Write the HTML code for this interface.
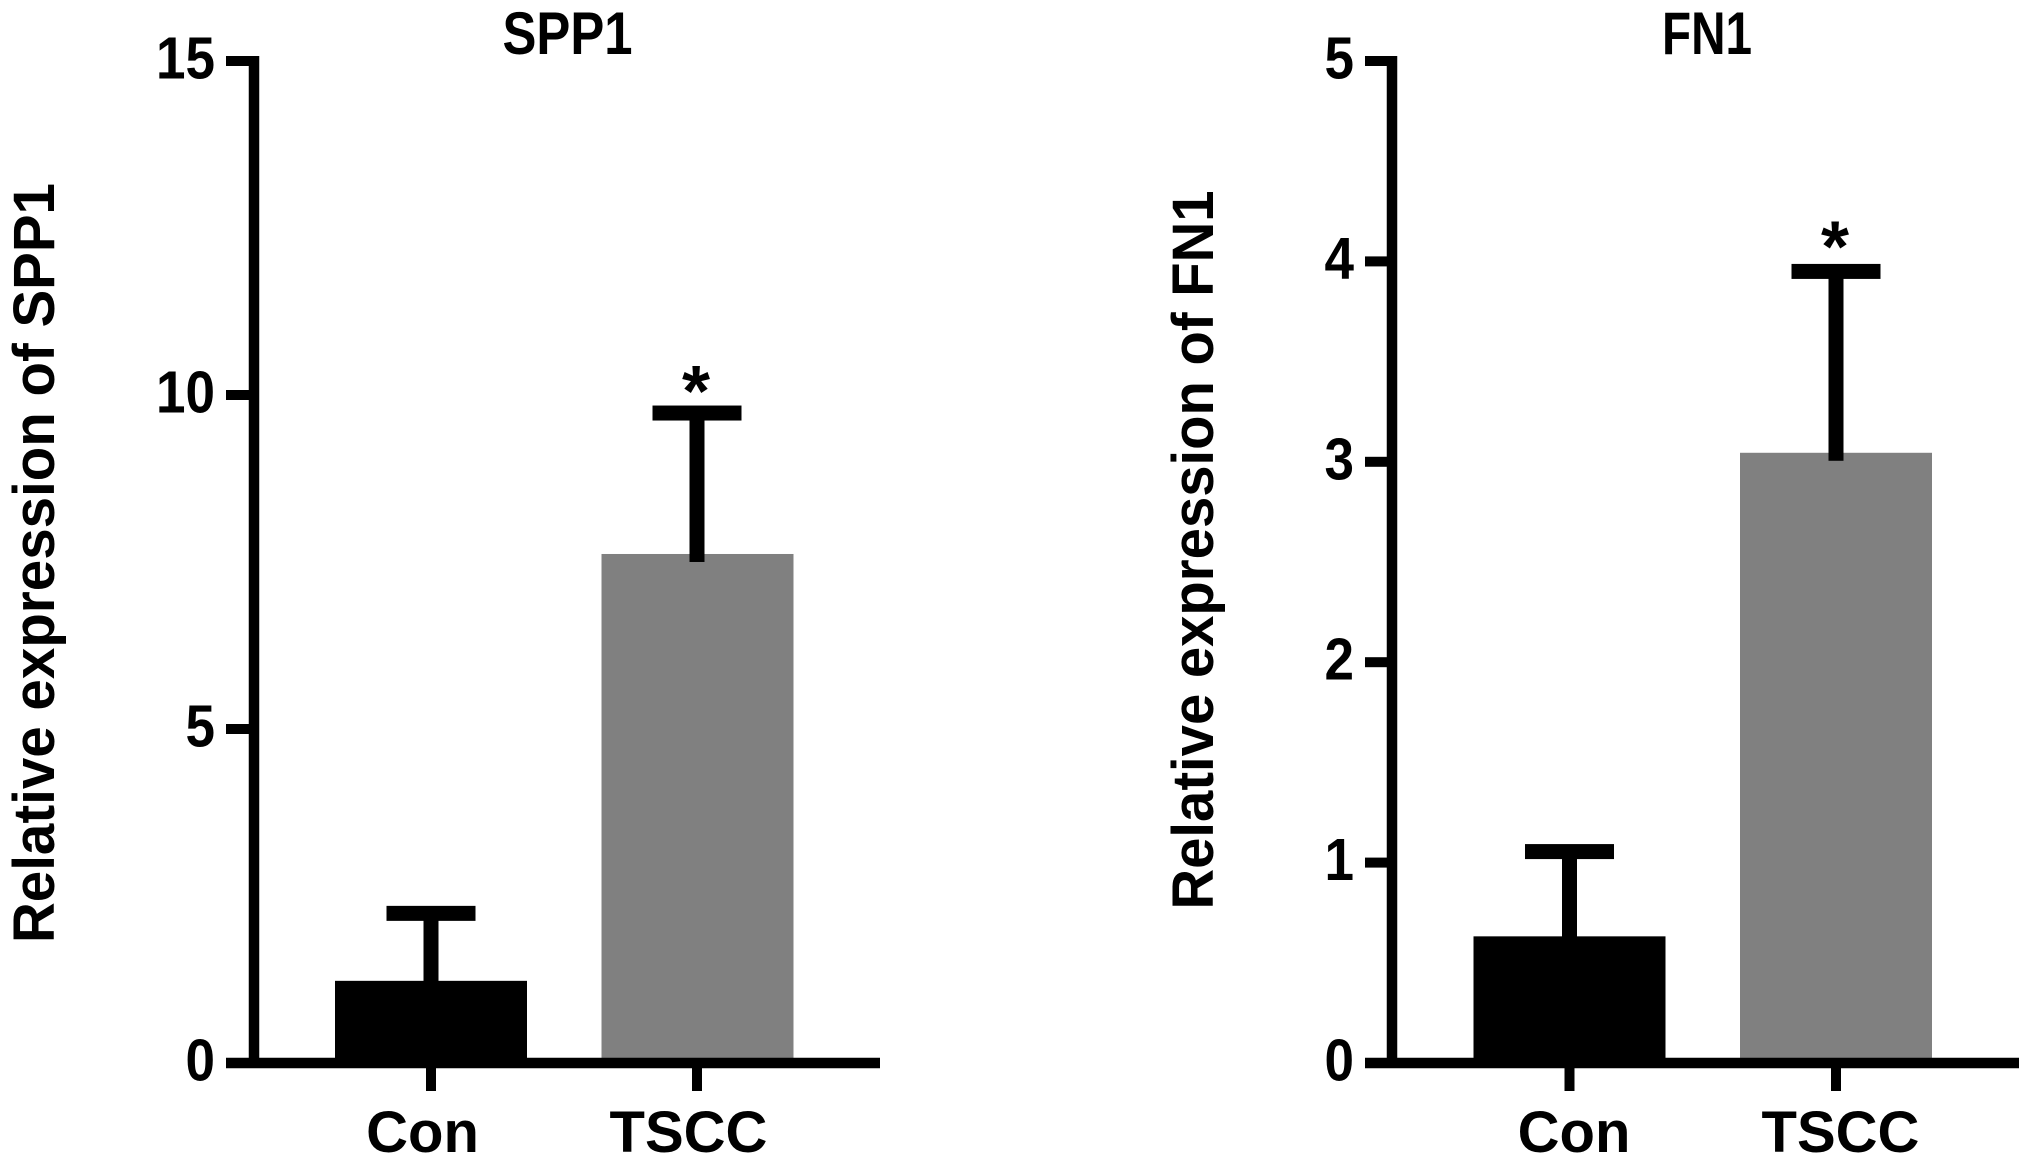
<!DOCTYPE html>
<html lang="en">
<head>
<meta charset="utf-8">
<title>SPP1 and FN1 relative expression</title>
<style>
html,body{margin:0;padding:0;background:#fff;width:2031px;height:1167px;overflow:hidden}
svg{display:block}
text{font-family:"Liberation Sans",Arial,sans-serif;font-weight:700;fill:#000}
</style>
</head>
<body>
<svg id="figure" xmlns="http://www.w3.org/2000/svg" width="2031" height="1167" viewBox="0 0 2031 1167">
<rect x="0" y="0" width="2031" height="1167" fill="#fff"/>
</svg>
<script>
// SPP1 data
const spp1Categories = ['Con', 'TSCC'];
const spp1Means = [1.23, 7.62];
const spp1ErrorTops = [2.24, 9.73];
const spp1Ticks = [0, 5, 10, 15];
const spp1Significance = ['', '*'];

// FN1 data
const fn1Categories = ['Con', 'TSCC'];
const fn1Means = [0.632, 3.045];
const fn1ErrorTops = [1.055, 3.95];
const fn1Ticks = [0, 1, 2, 3, 4, 5];
const fn1Significance = ['', '*'];

const barColors = ['#000000', '#808080'];
const svg = document.getElementById('figure');
const NS = 'http://www.w3.org/2000/svg';

function rect(parent, x, y, w, h, fill) {
  const el = document.createElementNS(NS, 'rect');
  el.setAttribute('x', x);
  el.setAttribute('y', y);
  el.setAttribute('width', w);
  el.setAttribute('height', h);
  el.setAttribute('fill', fill);
  parent.appendChild(el);
  return el;
}

function label(parent, str, x, y, size, anchor) {
  const el = document.createElementNS(NS, 'text');
  el.setAttribute('x', x);
  el.setAttribute('y', y);
  el.setAttribute('font-size', size);
  el.setAttribute('text-anchor', anchor);
  el.textContent = str;
  parent.appendChild(el);
  return el;
}

function squeeze(el, length) {
  el.setAttribute('textLength', length);
  el.setAttribute('lengthAdjust', 'spacingAndGlyphs');
}

function drawPanel(p) {
  const g = document.createElementNS(NS, 'g');
  
  
  svg.appendChild(g);

  const yMax = p.ticks[p.ticks.length - 1];
  const yScale = v => p.y0 - (v / yMax) * (p.y0 - p.yTop);

  // bars go first so the axis and error bars sit on top
  p.categories.forEach((cat, i) => {
    const top = yScale(p.means[i]);
    const bar = rect(g, p.barLefts[i], top, p.barWidth, p.y0 - top, barColors[i]);
    
    
  });

  // error bars
  p.categories.forEach((cat, i) => {
    const cx = p.centers[i];
    const capY = yScale(p.errorTops[i]);
    const meanY = yScale(p.means[i]);
    const stem = rect(g, cx - 7.5, capY, 15, meanY - capY + 8, '#000');
    
    
    const cap = rect(g, cx - 44.5, capY - 7.5, 89, 15, '#000');
    
    
    if (p.significance[i]) {
      const star = label(g, p.significance[i], cx - 1, capY + p.starDy, 72, 'middle');
      
      
    }
  });

  // y axis line
  const yAxis = rect(g, p.axisX - 5.25, p.yTop - 5, 10.5, p.y0 - p.yTop + 10, '#000');
  
  

  // x axis line
  const xAxis = rect(g, p.axisLeft, p.y0 - 5.25, p.axisRight - p.axisLeft, 10.5, '#000');
  
  

  // y ticks and labels
  p.ticks.forEach(t => {
    const y = yScale(t);
    const tick = rect(g, p.axisLeft, y - 5, p.axisX - p.axisLeft, 10, '#000');
    
    
    const txt = label(g, String(t), p.axisLeft - 11, y + 17.5, 59, 'end');
    squeeze(txt, String(t).length * 29.5);
    
    
  });

  // x ticks and category labels
  p.categories.forEach((cat, i) => {
    const cx = p.centers[i];
    const tick = rect(g, cx - 5, p.y0, 10, 28, '#000');
    
    
    const txt = label(g, cat, cx + p.labelDx, 1152, 58, 'middle');
    
    
  });

  // chart title
  const title = label(g, p.title, p.titleX, 54, 60, 'middle');
  squeeze(title, p.titleLength);
  
  

  // y axis title
  const yTitle = label(g, p.yTitle, 0, 0, 58, 'middle');
  squeeze(yTitle, p.yTitleLength);
  yTitle.setAttribute('transform', 'translate(' + p.yTitleX + ' ' + p.yTitleY + ') rotate(-90)');
  
  
}

drawPanel({
  id: 'spp1', title: 'SPP1', titleX: 567.5, titleLength: 130,
  yTitle: 'Relative expression of SPP1', yTitleX: 54, yTitleY: 563, yTitleLength: 760,
  categories: spp1Categories, means: spp1Means, errorTops: spp1ErrorTops,
  ticks: spp1Ticks, significance: spp1Significance, starDy: 3,
  axisX: 254, axisLeft: 226, axisRight: 880, y0: 1063, yTop: 61,
  centers: [431, 697], barLefts: [335, 601.5], barWidth: 192, labelDx: -8.5
});

drawPanel({
  id: 'fn1', title: 'FN1', titleX: 1707, titleLength: 90,
  yTitle: 'Relative expression of FN1', yTitleX: 1213, yTitleY: 550, yTitleLength: 719,
  categories: fn1Categories, means: fn1Means, errorTops: fn1ErrorTops,
  ticks: fn1Ticks, significance: fn1Significance, starDy: 0,
  axisX: 1392, axisLeft: 1365, axisRight: 2019, y0: 1063, yTop: 61,
  centers: [1569.5, 1836], barLefts: [1473.5, 1740], barWidth: 192, labelDx: 4.5
});
</script>
</body>
</html>
